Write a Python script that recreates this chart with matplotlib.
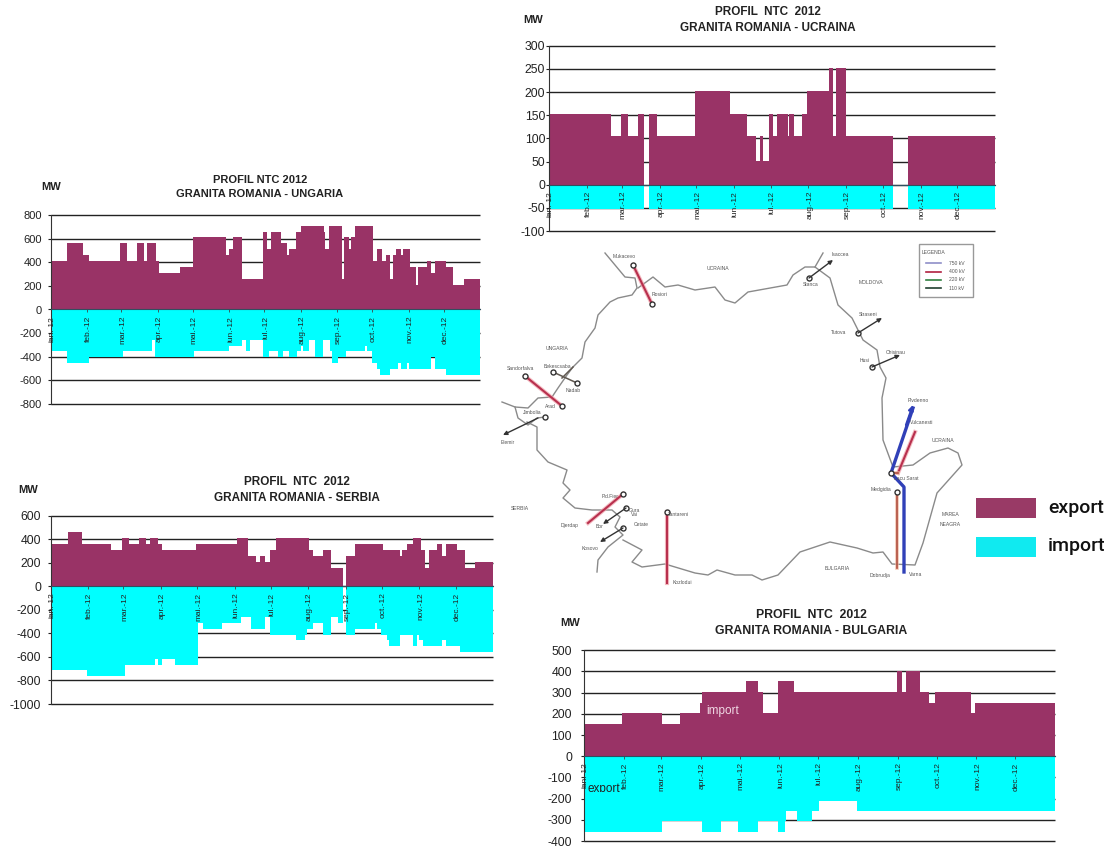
import matplotlib
matplotlib.use("Agg")
import matplotlib.pyplot as plt
from matplotlib.patches import Rectangle
from matplotlib.transforms import Bbox

plt.rcParams["font.family"] = ["Liberation Sans", "DejaVu Sans"]
plt.rcParams["axes.unicode_minus"] = False

W, H = 1111, 847
EXPORT_COLOR = "#993366"
IMPORT_COLOR = "#00FFFF"

months = ["ian.-12", "feb.-12", "mar.-12", "apr.-12", "mai.-12", "iun.-12",
          "iul.-12", "aug.-12", "sep.-12", "oct.-12", "nov.-12", "dec.-12"]
month_starts = [0, 31, 60, 91, 121, 152, 182, 213, 244, 274, 305, 335]

# Ungaria
hu_exp_days = [0, 14, 27, 32, 59, 65, 73, 79, 82, 90, 92, 110, 121, 149, 152, 155, 163, 181, 184, 188,
               196, 201, 203, 209, 213, 233, 234, 237, 248, 250, 254, 256, 259, 275, 278, 282, 286,
               289, 292, 294, 299, 300, 306, 311, 313, 321, 324, 328, 337, 343, 352, 366]
hu_exp = [410, 560, 460, 410, 560, 410, 560, 410, 560, 410, 310, 360, 610, 460, 510, 610, 260, 655, 510,
          655, 560, 460, 510, 655, 710, 655, 510, 710, 260, 610, 510, 610, 710, 410, 510, 410, 460,
          260, 460, 510, 460, 510, 360, 210, 360, 410, 310, 410, 360, 210, 260]
hu_imp_days = [0, 14, 32, 61, 86, 89, 122, 152, 163, 166, 170, 181, 186, 194, 198, 203, 210, 213, 215,
               220, 225, 232, 238, 240, 245, 252, 268, 270, 274, 278, 281, 289, 296, 299, 304, 305,
               324, 328, 337, 366]
hu_imp = [-355, -455, -405, -355, -255, -405, -355, -305, -255, -355, -255, -405, -355, -405, -355, -405,
          -355, -305, -355, -255, -405, -255, -355, -455, -405, -355, -305, -355, -455, -505, -555,
          -505, -455, -505, -455, -505, -405, -505, -555]

# Ucraina
ua_exp_days = [0, 32, 51, 59, 65, 73, 78, 82, 89, 120, 149, 163, 170, 173, 176, 181, 184, 187, 196, 197,
               201, 208, 212, 230, 233, 236, 244, 282, 295, 366]
ua_exp = [153, 153, 104, 153, 104, 153, 0, 153, 104, 203, 153, 104, 52, 104, 52, 153, 104, 153, 104, 153,
          104, 153, 203, 252, 104, 252, 104, 0, 104]
ua_imp_days = [0, 78, 82, 282, 295, 366]
ua_imp = [-52, 0, -52, 0, -52]

# Serbia
rs_exp_days = [0, 14, 26, 50, 59, 65, 73, 79, 82, 89, 92, 120, 154, 163, 170, 173, 177, 181, 186, 214,
               217, 225, 232, 242, 244, 252, 275, 289, 291, 295, 300, 306, 310, 313, 320, 324, 327,
               336, 343, 351, 366]
rs_exp = [356, 458, 356, 305, 407, 356, 407, 356, 407, 356, 305, 356, 407, 257, 206, 257, 206, 305, 407,
          305, 257, 305, 158, 0, 257, 356, 305, 257, 305, 356, 407, 305, 158, 305, 356, 257, 356,
          305, 158, 206]
rs_imp_days = [0, 30, 61, 86, 89, 92, 103, 122, 126, 142, 157, 166, 177, 181, 203, 210, 212, 217, 225,
               232, 238, 242, 244, 252, 268, 270, 273, 278, 280, 289, 300, 303, 305, 308, 324, 327,
               339, 366]
rs_imp = [-712, -760, -667, -616, -667, -616, -667, -314, -364, -314, -263, -364, -263, -412, -458, -412,
          -364, -314, -412, -263, -314, 0, -412, -364, -314, -364, -412, -458, -511, -412, -511, -412,
          -458, -511, -458, -511, -562]

# Bulgaria
bg_exp_days = [0, 30, 61, 75, 90, 92, 126, 135, 139, 151, 163, 243, 247, 250, 261, 268, 273, 301, 304, 366]
bg_exp = [153, 202, 153, 202, 252, 304, 355, 304, 202, 355, 304, 404, 304, 404, 304, 252, 304, 202, 252]
bg_imp_days = [0, 61, 92, 107, 120, 135, 151, 156, 157, 166, 177, 183, 212, 366]
bg_imp = [-358, -307, -358, -307, -358, -307, -358, -307, -259, -307, -259, -210, -259]

hu_ticks = [800, 600, 400, 200, 0, -200, -400, -600, -800]
ua_ticks = [300, 250, 200, 150, 100, 50, 0, -50, -100]
rs_ticks = [600, 400, 200, 0, -200, -400, -600, -800, -1000]
bg_ticks = [500, 400, 300, 200, 100, 0, -100, -200, -300, -400]

border_north_west = [(605, 253), (615, 265), (625, 277), (635, 278), (637, 288), (632, 295), (618, 298),
                     (610, 302), (598, 315), (595, 328), (585, 342), (582, 358), (573, 367), (567, 375),
                     (558, 388), (552, 397), (538, 398), (528, 408), (515, 407), (502, 402)]
border_loop = [(515, 407), (518, 418), (528, 425), (537, 418), (545, 417)]
border_west = [(527, 422), (537, 427), (537, 450), (548, 462), (567, 470), (563, 483), (570, 490), (563, 498),
               (575, 508), (592, 510), (612, 510), (620, 517), (615, 527), (623, 535), (608, 547),
               (598, 560), (597, 572)]
border_south = [(623, 540), (642, 550), (632, 562), (642, 567), (665, 564), (695, 573), (708, 575), (717, 570),
                (735, 575), (752, 575), (762, 580), (778, 575), (800, 552), (830, 542), (857, 548),
                (873, 553), (883, 552), (892, 564), (915, 565), (923, 543), (937, 493), (962, 465),
                (958, 453), (948, 448), (930, 453), (913, 465), (893, 467), (883, 440), (882, 398),
                (886, 378), (880, 367), (877, 350), (863, 340), (852, 318), (838, 305), (830, 278),
                (815, 267), (805, 267), (793, 275), (787, 285), (748, 292), (735, 303), (725, 300),
                (715, 287), (695, 290), (678, 285), (665, 287), (653, 277), (638, 288)]
border_north_east = [(815, 267), (823, 253)]

red_lines = [[(633, 265), (652, 304)], [(525, 376), (562, 406)], [(623, 494), (588, 523)],
             [(667, 512), (667, 583)], [(898, 473), (915, 432)]]
orange_lines = [[(891, 473), (898, 473)], [(897, 492), (897, 568)]]
blue_lines = [[(891, 473), (913, 408)], [(891, 473), (904, 487), (904, 572)]]
dark_lines = [[(553, 372), (577, 383)], [(562, 378), (573, 367)]]
black_arrows = [[(809, 278), (833, 260)], [(858, 333), (882, 318)], [(872, 367), (900, 355)],
                [(538, 418), (503, 435)], [(626, 508), (603, 524)], [(623, 528), (600, 542)]]
stations = [(633, 265), (652, 304), (525, 376), (553, 372), (577, 383), (562, 406), (545, 417), (809, 278),
            (858, 333), (872, 367), (623, 494), (626, 508), (623, 528), (667, 512), (891, 473), (897, 492)]

map_labels = [(624, 256, "Mukacevo"), (660, 295, "Rosiori"), (718, 269, "UCRAINA"), (557, 348, "UNGARIA"),
              (520, 368, "Sandorfalva"), (557, 366, "Bekescsaba"), (573, 391, "Nadab"), (550, 406, "Arad"),
              (532, 412, "Jimbolia"), (508, 442, "Elemir"), (520, 509, "SERBIA"), (610, 496, "P.d.Fier"),
              (634, 511, "Gura"), (634, 515, "Vai"), (570, 525, "Djerdap"), (600, 527, "Bor"),
              (641, 524, "Cetate"), (590, 548, "Kosovo"), (678, 514, "Tantareni"), (682, 582, "Kozlodui"),
              (840, 255, "Isaccea"), (811, 285, "Stanca"), (871, 282, "MOLDOVA"), (868, 314, "Straseni"),
              (839, 333, "Tutova"), (896, 352, "Chisinau"), (865, 361, "Husi"), (918, 400, "Pivdenno"),
              (922, 423, "Vulcanesti"), (943, 440, "UCRAINA"), (906, 479, "Lacu Sarat"), (881, 490, "Medgidia"),
              (950, 515, "MAREA"), (950, 524, "NEAGRA"), (837, 569, "BULGARIA"), (880, 575, "Dobrudja"),
              (916, 574, "Varna")]
legend_kv = ["750 kV", "400 kV", "220 kV", "110 kV"]
legend_colors = ["#8f8fc8", "#b02040", "#2f8040", "#204030"]


def pixel_axes(left, right, top, bottom):
    return fig.add_axes([left / W, 1 - bottom / H, (right - left) / W, (bottom - top) / H])


def ntc_panel(box, ticks, exp_days, exp, imp_days, imp, title, title_xy, mw_xy, size, tsize, pad):
    ax = pixel_axes(*box)
    ax.hlines(ticks, 0, 366, color="#222222", lw=1.0, zorder=0, clip_on=False)
    ax.stairs(exp, exp_days, fill=True, color=EXPORT_COLOR, zorder=1)
    ax.stairs(imp, imp_days, fill=True, color=IMPORT_COLOR, zorder=1)
    ax.set_xlim(0, 366)
    ax.set_ylim(ticks[-1], ticks[0])
    ax.set_yticks(ticks)
    ax.set_xticks(month_starts)
    ax.tick_params(axis="y", labelsize=size, length=2.5, width=0.8, pad=pad, colors="#222222")
    ax.tick_params(axis="x", length=2, width=0.6, labelbottom=False, color="#444444")
    for s in ["top", "right"]:
        ax.spines[s].set_visible(False)
    ax.spines["bottom"].set_position(("data", 0))
    ax.spines["bottom"].set_color("#2f5060")
    ax.spines["bottom"].set_linewidth(0.8)
    ax.spines["left"].set_color("#333333")
    ax.patch.set_alpha(0)
    # month labels sit just under the zero line, on top of the import block
    for day, name in zip(month_starts, months):
        ax.annotate(name, (day, 0), xytext=(1, -4.5), textcoords="offset points", rotation=90,
                    ha="center", va="top", fontsize=6, color="#222222", zorder=3,
                    annotation_clip=False)
    fig.text(title_xy[0] / W, 1 - title_xy[1] / H, title, ha="center", va="center", fontsize=tsize,
             fontweight="bold", color="#222222", linespacing=1.4)
    fig.text(mw_xy[0] / W, 1 - mw_xy[1] / H, "MW", ha="left", va="center", fontsize=8,
             fontweight="bold", color="#222222")
    return ax


fig = plt.figure(figsize=(W / 100, H / 100), dpi=100)

# map goes underneath, on an overlay in picture pixels
m = fig.add_axes([0, 0, 1, 1], zorder=0)
m.set_xlim(0, W)
m.set_ylim(H, 0)
m.axis("off")

for path in [border_north_west, border_loop, border_west, border_south, border_north_east]:
    m.plot(*zip(*path), color="#8a8a8a", lw=1.0, solid_joinstyle="round")
for path in red_lines:
    m.plot(*zip(*path), color="#f0a0a8", lw=3.0, alpha=0.7)
    m.plot(*zip(*path), color="#b8304e", lw=1.5)
for path in orange_lines:
    m.plot(*zip(*path), color="#f0b8a0", lw=2.6, alpha=0.8)
    m.plot(*zip(*path), color="#b05040", lw=1.2)
for path in blue_lines:
    m.plot(*zip(*path), color="#3040b8", lw=2.4)
for path in dark_lines:
    m.plot(*zip(*path), color="#605850", lw=1.1)
for start, end in black_arrows:
    m.annotate("", xy=end, xytext=start,
               arrowprops=dict(arrowstyle="-|>", color="#333333", lw=1.0, mutation_scale=6, shrinkA=0, shrinkB=0))
m.annotate("", xy=(913, 405), xytext=(906, 425),
           arrowprops=dict(arrowstyle="-|>", color="#3040b8", lw=1.6, mutation_scale=7, shrinkA=0, shrinkB=0))
m.plot(*zip(*stations), ls="none", marker="o", ms=3.6, mfc="white", mec="#333333", mew=1.0)
for x, y, name in map_labels:
    m.text(x, y, name, fontsize=3.6, color="#555555", ha="center", va="center")

m.add_patch(Rectangle((919, 244), 54, 53, fc="white", ec="#999999", lw=1))
m.text(934, 253, "LEGENDA", fontsize=3.6, color="#555555", ha="center", va="center")
for i, (kv, col) in enumerate(zip(legend_kv, legend_colors)):
    yy = 263.5 + i * 8.2
    m.plot([926, 941], [yy, yy], color=col, lw=1.2)
    m.text(957, yy, kv, fontsize=3.6, color="#555555", ha="center", va="center")

# export / import key
m.add_patch(Rectangle((976, 498), 60, 20, fc="#993A66", ec="none"))
m.add_patch(Rectangle((976, 537), 60, 20, fc="#10EAF0", ec="none"))
m.text(1048, 508, "export", fontsize=14, family="Roboto", fontweight="medium", color="#111111", va="center")
m.text(1048, 546, "import", fontsize=14, family="Roboto", fontweight="medium", color="#111111", va="center")

ntc_panel((51, 480, 215, 404), hu_ticks, hu_exp_days, hu_exp, hu_imp_days, hu_imp,
          "PROFIL NTC 2012\nGRANITA ROMANIA - UNGARIA", (260, 187), (41, 187), 8, 8, 4)
ntc_panel((548.7, 995, 45.7, 231), ua_ticks, ua_exp_days, ua_exp, ua_imp_days, ua_imp,
          "PROFIL  NTC  2012\nGRANITA ROMANIA - UCRAINA", (768, 20), (523, 20), 8.8, 8.5, 0)
ntc_panel((51, 493, 515.7, 704), rs_ticks, rs_exp_days, rs_exp, rs_imp_days, rs_imp,
          "PROFIL  NTC  2012\nGRANITA ROMANIA - SERBIA", (297, 490), (18, 490), 8.8, 8.5, 4.7)
ntc_panel((583.7, 1055, 650.3, 841), bg_ticks, bg_exp_days, bg_exp, bg_imp_days, bg_imp,
          "PROFIL  NTC  2012\nGRANITA ROMANIA - BULGARIA", (811, 623), (560, 623), 8.8, 8.8, 6)

# stray labels left over inside the Bulgaria chart, the lower one is cut through in the source
fig.text(706 / W, 1 - 711 / H, "import", fontsize=8.5, color="#f0d8e4", va="center", zorder=5)
cut = fig.text(588 / W, 1 - 792 / H, "export", fontsize=8.5, color="#222222", va="baseline", zorder=5)
cut.set_clip_box(Bbox([[0, H - 791.5], [W, H]]))
cut.set_clip_on(True)

fig.savefig("out.png", dpi=100)
